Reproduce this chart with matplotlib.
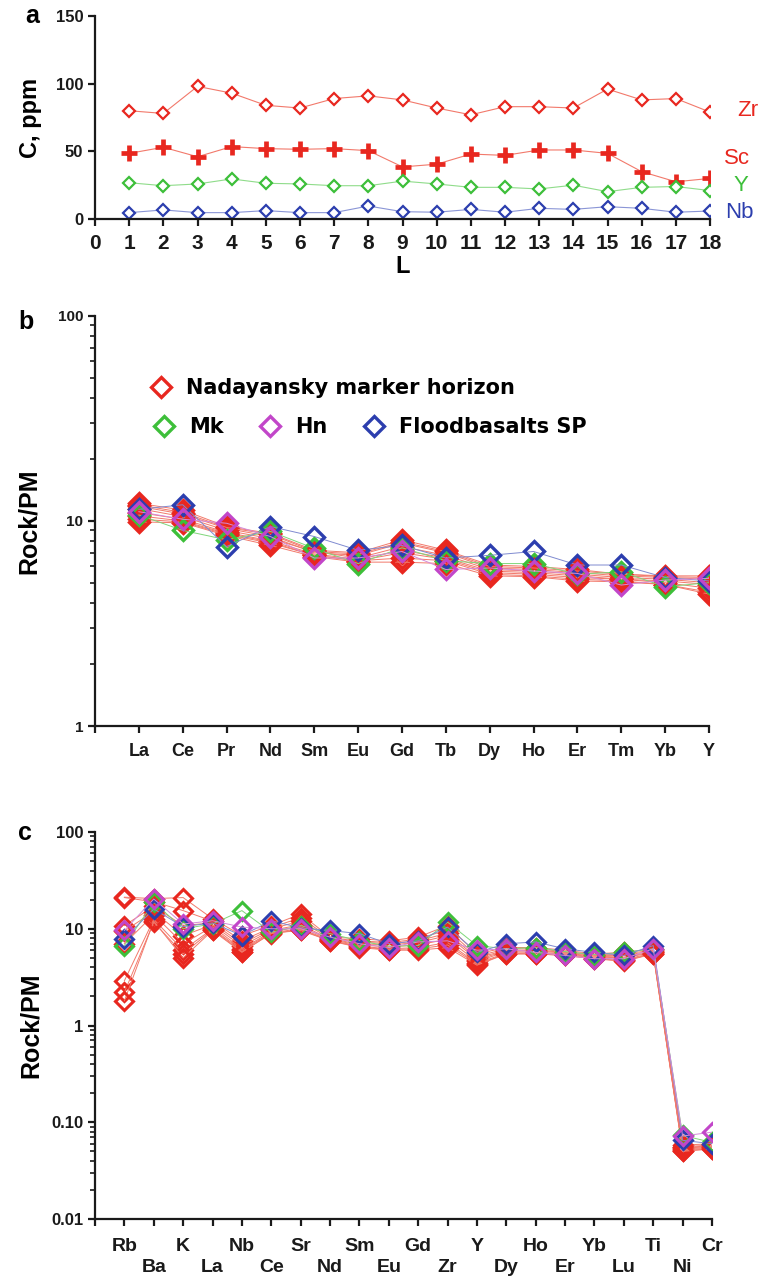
import matplotlib
matplotlib.use("Agg")
import matplotlib.pyplot as plt
from matplotlib.lines import Line2D
from matplotlib.ticker import LogLocator, NullFormatter, FixedLocator

plt.rcParams['font.family'] = ['Liberation Sans', 'DejaVu Sans']
plt.rcParams['font.weight'] = 'bold'

#---------------------------------DATA--------------------
# panel a: concentrations along the section
L_levels = list(range(1, 19))
Zr = [80, 78, 98, 93, 84, 82, 89, 91, 88, 82, 77, 83, 83, 82, 96, 88, 89, 79]
Sc = [48.5, 53, 46, 53.5, 52, 51.5, 52, 50.5, 38.5, 40.5, 48, 47, 51, 51, 48.5, 35, 27.5, 30]
Y_a = [26.8, 24.6, 25.9, 29.6, 26.4, 25.9, 24.6, 24.6, 28, 25.9, 23.4, 23.4, 22.2, 25, 20.2, 23.4, 24, 21]
Nb_a = [4.7, 6.7, 4.7, 4.7, 6.2, 4.7, 4.7, 9.6, 5.4, 5, 7.1, 5, 7.9, 7.1, 9.1, 7.9, 5, 5.9]

# panel b: REE spectra normalised to primitive mantle
ree = ['La', 'Ce', 'Pr', 'Nd', 'Sm', 'Eu', 'Gd', 'Tb', 'Dy', 'Ho', 'Er', 'Tm', 'Yb', 'Y']
ree_nad = [
    [12.2, 11.3, 9.4, 8.7, 7.2, 7.0, 8.1, 7.2, 6.1, 6.0, 5.8, 5.5, 5.4, 5.4],
    [11.8, 10.8, 9.2, 8.4, 7.0, 6.8, 7.8, 7.0, 5.9, 5.8, 5.6, 5.4, 5.3, 5.2],
    [11.5, 10.5, 9.0, 8.2, 7.1, 6.6, 7.5, 6.8, 5.8, 5.7, 5.5, 5.3, 5.2, 5.0],
    [11.0, 10.2, 8.8, 8.0, 6.9, 6.5, 7.2, 6.6, 5.7, 5.6, 5.4, 5.2, 5.1, 4.9],
    [10.6, 10.0, 8.7, 7.9, 6.8, 6.4, 7.0, 6.5, 5.6, 5.5, 5.3, 5.2, 5.0, 4.7],
    [10.2, 9.9, 8.6, 7.8, 6.8, 6.4, 6.6, 6.4, 5.5, 5.4, 5.2, 5.1, 4.9, 4.5],
    [9.9, 9.8, 8.5, 7.6, 6.7, 6.3, 6.3, 6.2, 5.4, 5.35, 5.1, 5.05, 4.9, 4.4],
    [12.0, 11.0, 9.3, 8.6, 7.1, 6.9, 7.9, 7.1, 6.0, 5.9, 5.7, 5.5, 5.35, 5.3],
]
ree_mk = [10.7, 9.0, 8.1, 8.9, 7.35, 6.2, 7.4, 6.4, 6.2, 6.2, 5.5, 5.65, 4.78, 5.0]
ree_hn = [11.1, 10.2, 9.75, 8.4, 6.6, 6.6, 7.1, 5.8, 5.9, 5.7, 5.55, 4.87, 5.15, 5.25]
ree_sp = [11.4, 12.0, 7.5, 9.4, 8.4, 7.2, 7.6, 6.6, 6.8, 7.1, 6.1, 6.1, 5.3, 5.1]

# panel c: spider diagram
spider = ['Rb', 'Ba', 'K', 'La', 'Nb', 'Ce', 'Sr', 'Nd', 'Sm', 'Eu', 'Gd',
          'Zr', 'Y', 'Dy', 'Ho', 'Er', 'Yb', 'Lu', 'Ti', 'Ni', 'Cr']
sp_nad = [
    [21.2, 20.5, 21.0, 12.7, 8.5, 10.8, 14.2, 8.2, 7.9, 7.5, 8.2, 10.8, 5.5, 6.4, 6.4, 6.0, 5.5, 5.7, 6.2, 0.058, 0.060],
    [21.0, 19.0, 15.4, 12.0, 7.5, 10.3, 13.0, 8.0, 7.5, 7.2, 7.8, 9.8, 5.2, 6.2, 6.2, 5.8, 5.4, 5.5, 6.0, 0.056, 0.058],
    [10.8, 17.0, 10.8, 11.5, 7.0, 10.0, 12.0, 7.9, 7.3, 7.0, 7.5, 9.0, 5.0, 6.0, 6.0, 5.7, 5.3, 5.3, 5.9, 0.055, 0.057],
    [9.5, 15.0, 8.5, 11.0, 6.6, 9.6, 11.0, 7.8, 7.0, 6.8, 7.2, 8.5, 4.8, 5.9, 5.9, 5.6, 5.2, 5.1, 5.8, 0.054, 0.056],
    [7.0, 14.0, 7.0, 10.5, 6.2, 9.3, 10.5, 7.7, 6.8, 6.5, 6.8, 7.8, 4.6, 5.8, 5.7, 5.5, 5.1, 5.0, 5.7, 0.053, 0.055],
    [2.9, 12.5, 6.0, 10.0, 6.0, 9.1, 10.0, 7.6, 6.6, 6.2, 6.4, 7.2, 4.4, 5.6, 5.6, 5.4, 5.0, 4.8, 5.6, 0.052, 0.054],
    [2.2, 11.7, 5.5, 9.8, 5.8, 8.9, 9.8, 7.5, 6.5, 6.1, 6.2, 6.8, 4.3, 5.5, 5.5, 5.3, 4.9, 4.7, 5.5, 0.051, 0.053],
    [1.8, 12.0, 5.0, 9.6, 5.7, 9.0, 9.6, 7.5, 6.4, 6.0, 6.0, 6.4, 4.2, 5.5, 5.5, 5.3, 4.9, 4.6, 5.5, 0.050, 0.053],
]
sp_mk = [6.7, 18.8, 10.0, 11.2, 15.4, 9.2, 10.8, 8.9, 7.5, 6.6, 6.7, 11.7, 6.7, 6.2, 6.4, 5.8, 5.4, 5.7, 6.2, 0.073, 0.062]
sp_hn = [9.6, 20.3, 11.2, 12.1, 10.4, 10.0, 10.0, 8.2, 7.0, 6.4, 7.3, 7.5, 6.0, 6.2, 5.7, 5.3, 4.9, 4.9, 6.2, 0.072, 0.079]
sp_sp = [7.9, 16.0, 10.5, 11.5, 8.5, 12.1, 10.2, 9.6, 8.9, 7.0, 7.5, 10.4, 5.7, 7.0, 7.3, 6.2, 5.7, 5.3, 6.7, 0.065, 0.060]

#---------------------------------STYLE--------------------
RED = '#e8271f'
RED_LINE = '#f2796b'
GREEN = '#3dbf3a'
MAG = '#c246c9'
BLUE = '#2c3eae'
BLK = '#1a1a1a'


def style_axes(ax):
    for s in ['top', 'right']:
        ax.spines[s].set_visible(False)
    for s in ['left', 'bottom']:
        ax.spines[s].set_linewidth(1.6)
        ax.spines[s].set_color(BLK)
    ax.tick_params(which='major', direction='out', length=5, width=1.6, colors=BLK, labelsize=12)
    ax.tick_params(which='minor', direction='out', length=3.5, width=1.2, colors=BLK)


fig = plt.figure(figsize=(7.7, 12.81), dpi=100)

#--------------------------------PANEL A--------------------
ax_a = fig.add_axes([95 / 770, 1 - 219 / 1281, 615 / 770, 203 / 1281])
ax_a.plot(L_levels, Zr, color=RED_LINE, lw=0.8, marker='D', ms=6.5, mfc='white', mec=RED, mew=1.6)
ax_a.plot(L_levels, Sc, color=RED_LINE, lw=0.8, marker='+', ms=11, mec=RED, mew=3.4)
ax_a.plot(L_levels, Y_a, color='#8fdc8a', lw=0.8, marker='D', ms=6.5, mfc='white', mec=GREEN, mew=1.6)
ax_a.plot(L_levels, Nb_a, color='#8a95d6', lw=0.8, marker='D', ms=6.5, mfc='white', mec=BLUE, mew=1.6)
ax_a.set_xlim(0, 18)
ax_a.set_ylim(0, 150)
ax_a.set_xticks(range(0, 19))
ax_a.set_yticks([0, 50, 100, 150])
style_axes(ax_a)
ax_a.tick_params(axis='x', labelsize=15, pad=6)
ax_a.set_xlabel('L', fontsize=17, fontweight='bold', labelpad=1)
ax_a.set_ylabel('C, ppm', fontsize=17, fontweight='bold', labelpad=10)
for name, yv, xo, col in [('Zr', 80.5, 18.8, RED), ('Sc', 45, 18.4, RED), ('Y', 25, 18.7, GREEN), ('Nb', 5, 18.45, BLUE)]:
    ax_a.text(xo, yv, name, color=col, fontsize=16, fontweight='normal', va='center', ha='left', clip_on=False)
fig.text(25 / 770, 1 - 16 / 1281, 'a', fontsize=18, fontweight='bold', va='center', ha='left')

#--------------------------------PANEL B--------------------
ax_b = fig.add_axes([95 / 770, 1 - 726 / 1281, 614 / 770, 410 / 1281])
xb = list(range(1, len(ree) + 1))
for row in ree_nad:
    ax_b.plot(xb, row, color=RED_LINE, lw=0.7, marker='D', ms=10.5, mfc='none', mec=RED, mew=2.4)
ax_b.plot(xb, ree_mk, color='#7fd67a', lw=0.7, marker='D', ms=10.5, mfc='none', mec=GREEN, mew=2.4)
ax_b.plot(xb, ree_sp, color='#7f8ad0', lw=0.7, marker='D', ms=10.5, mfc='none', mec=BLUE, mew=2.4)
ax_b.plot(xb, ree_hn, color='#d58ad9', lw=0.7, marker='D', ms=10.5, mfc='none', mec=MAG, mew=2.4)
ax_b.set_yscale('log')
ax_b.set_ylim(1, 100)
ax_b.set_xlim(0, len(ree))
ax_b.set_xticks(range(0, len(ree) + 1))
ax_b.set_xticklabels([''] + ree)
ax_b.yaxis.set_major_locator(FixedLocator([1, 10, 100]))
ax_b.yaxis.set_minor_locator(LogLocator(base=10, subs=range(2, 10)))
ax_b.yaxis.set_minor_formatter(NullFormatter())
ax_b.set_yticklabels(['1', '10', '100'])
style_axes(ax_b)
ax_b.tick_params(axis='y', labelsize=11)
ax_b.tick_params(axis='x', labelsize=13, pad=7)
ax_b.set_ylabel('Rock/PM', fontsize=18, fontweight='bold', labelpad=12)
fig.text(18 / 770, 1 - 322 / 1281, 'b', fontsize=18, fontweight='bold', va='center', ha='left')


def handle(col):
    return Line2D([], [], linestyle='none', marker='D', ms=10.5, mfc='none', mec=col, mew=2.4)


leg_font = {'family': 'DejaVu Sans', 'weight': 'bold', 'size': 15}
leg1 = ax_b.legend([handle(RED)], ['Nadayansky marker horizon'], loc='center left',
                   bbox_to_anchor=(0.09, 0.824), frameon=False, handlelength=1.0,
                   handletextpad=0.7, borderpad=0, borderaxespad=0, prop=leg_font)
ax_b.add_artist(leg1)
ax_b.legend([handle(GREEN), handle(MAG), handle(BLUE)], ['Mk', 'Hn', 'Floodbasalts SP'],
            loc='center left', bbox_to_anchor=(0.095, 0.729), ncol=3, frameon=False,
            handlelength=1.0, handletextpad=0.7, columnspacing=1.75, borderpad=0,
            borderaxespad=0, prop=leg_font)

#--------------------------------PANEL C--------------------
ax_c = fig.add_axes([95 / 770, 1 - 1219 / 1281, 617 / 770, 387 / 1281])
xc = list(range(1, len(spider) + 1))
for row in sp_nad:
    ax_c.plot(xc, row, color=RED_LINE, lw=0.7, marker='D', ms=9, mfc='none', mec=RED, mew=2.2)
ax_c.plot(xc, sp_mk, color='#7fd67a', lw=0.7, marker='D', ms=9, mfc='none', mec=GREEN, mew=2.2)
ax_c.plot(xc, sp_sp, color='#7f8ad0', lw=0.7, marker='D', ms=9, mfc='none', mec=BLUE, mew=2.2)
ax_c.plot(xc, sp_hn, color='#d58ad9', lw=0.7, marker='D', ms=9, mfc='none', mec=MAG, mew=2.2)
ax_c.set_yscale('log')
ax_c.set_ylim(0.01, 100)
ax_c.set_xlim(0, len(spider))
ax_c.set_xticks(range(0, len(spider) + 1))
c_labels = ['']
for i, el in enumerate(spider):
    c_labels.append(el if i % 2 == 0 else '\n' + el)
ax_c.set_xticklabels(c_labels, linespacing=1.3)
ax_c.yaxis.set_major_locator(FixedLocator([0.01, 0.1, 1, 10, 100]))
ax_c.yaxis.set_minor_locator(LogLocator(base=10, subs=range(2, 10)))
ax_c.yaxis.set_minor_formatter(NullFormatter())
ax_c.set_yticklabels(['0.01', '0.10', '1', '10', '100'])
style_axes(ax_c)
ax_c.tick_params(axis='y', labelsize=12)
ax_c.tick_params(axis='x', labelsize=14, pad=9)
ax_c.set_ylabel('Rock/PM', fontsize=18, fontweight='bold', labelpad=6)
fig.text(18 / 770, 1 - 833 / 1281, 'c', fontsize=18, fontweight='bold', va='center', ha='left')

fig.savefig('out.png', dpi=100)
